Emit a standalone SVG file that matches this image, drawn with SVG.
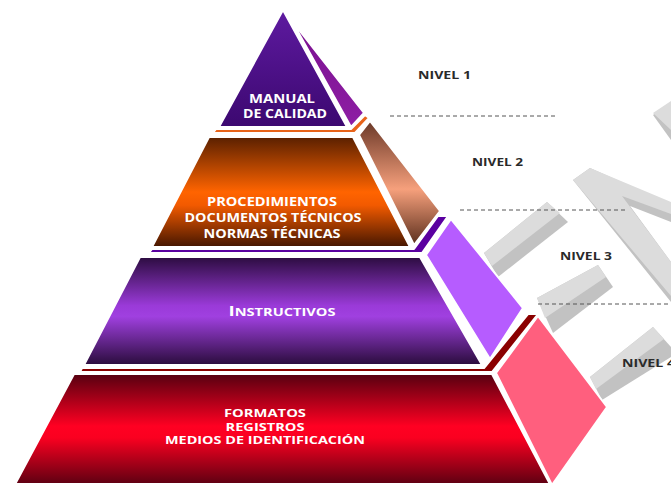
<svg xmlns="http://www.w3.org/2000/svg" width="671" height="483" viewBox="0 0 671 483">
<defs>
<linearGradient id="g1" x1="0" y1="0" x2="0" y2="1"><stop offset="0" stop-color="#5e1aa0"/><stop offset="1" stop-color="#3c0870"/></linearGradient>
<linearGradient id="g1s" x1="0" y1="0" x2="0" y2="1"><stop offset="0" stop-color="#7a1090"/><stop offset="1" stop-color="#8e1ea4"/></linearGradient>
<linearGradient id="g2" x1="0" y1="0" x2="0" y2="1"><stop offset="0" stop-color="#5a2000"/><stop offset="0.5" stop-color="#ff6400"/><stop offset="0.62" stop-color="#f25a00"/><stop offset="1" stop-color="#451600"/></linearGradient>
<linearGradient id="g2s" x1="0" y1="0" x2="0" y2="1"><stop offset="0" stop-color="#6a3828"/><stop offset="0.55" stop-color="#f6a07c"/><stop offset="1" stop-color="#5a2e1c"/></linearGradient>
<linearGradient id="g3" x1="0" y1="0" x2="0" y2="1"><stop offset="0" stop-color="#2c0c40"/><stop offset="0.45" stop-color="#9a3ad8"/><stop offset="0.55" stop-color="#a040e0"/><stop offset="1" stop-color="#2a0c3c"/></linearGradient>
<linearGradient id="g4" x1="0" y1="0" x2="0" y2="1"><stop offset="0" stop-color="#560010"/><stop offset="0.45" stop-color="#ff0022"/><stop offset="0.55" stop-color="#fa0020"/><stop offset="1" stop-color="#4a0010"/></linearGradient>
<style>
.face{stroke:#ffffff;stroke-width:2;stroke-linejoin:round}
.lbl{font-family:"Open Sans","DejaVu Sans",sans-serif;font-weight:700;fill:#ffffff;text-anchor:middle;font-size:11.5px}
.sm{font-size:10px}
.niv{font-family:"Open Sans","DejaVu Sans",sans-serif;font-weight:700;fill:#2a2a2a;font-size:10.5px}
.dash{stroke:#555555;stroke-width:1;stroke-dasharray:4 3;fill:none}
.wm{fill:#dcdcdc}
.wms{fill:#c2c2c2}
</style>
</defs>
<rect width="671" height="483" fill="#ffffff"/>
<g id="watermark">
<polygon class="wms" points="590,168 671,204 671,222 630,206 671,262 671,302 573,180"/>
<polygon class="wm" points="590,168 671,202 671,214 622,196 671,262 671,296 573,180"/>
<polygon class="wms" points="653,115 671,103 671,140"/>
<polygon class="wm" points="653,113 671,101 671,130"/>
<polygon class="wms" points="484,253 547,202 568,222 498,277"/>
<polygon class="wm" points="484,253 547,202 560,213 492,266"/>
<polygon class="wms" points="537,298 598,265 613,287 553,333"/>
<polygon class="wm" points="537,298 598,265 606,277 545,318"/>
<polygon class="wms" points="590,377 653,327 671,347 671,357 602,400"/>
<polygon class="wm" points="590,377 653,327 664,339 596,389"/>
</g>
<g id="connectors">
<line class="dash" x1="390" y1="116" x2="557" y2="116"/>
<line class="dash" x1="460" y1="210" x2="625" y2="210"/>
<line class="dash" x1="538" y1="304" x2="671" y2="304"/>
</g>
<g id="level4">
<polygon class="face" points="82,368 484,368 528,314 538,314 492,372 80,372" fill="#8a0000"/>
<polygon class="face" points="496,373 538,316 607,407 552,485" fill="#ff5f7e"/>
<polygon class="face" points="74,374 492,374 553,490 12,490" fill="url(#g4)"/>
<text class="lbl sm" x="265" y="417" textLength="82" lengthAdjust="spacingAndGlyphs">FORMATOS</text>
<text class="lbl sm" x="265" y="430.5" textLength="79" lengthAdjust="spacingAndGlyphs">REGISTROS</text>
<text class="lbl sm" x="265" y="444" textLength="200" lengthAdjust="spacingAndGlyphs">MEDIOS DE IDENTIFICACIÓN</text>
</g>
<g id="level3">
<polygon class="face" points="152,249 414,249 438,216 448,216 422,253 149,253" fill="#5a00a0"/>
<polygon class="face" points="426,255 451,219 523,308 490,359" fill="#b65cff"/>
<polygon class="face" points="140,257 420,257 482,365 84,365" fill="url(#g3)"/>
<text class="lbl" x="282" y="316" textLength="107" lengthAdjust="spacingAndGlyphs"><tspan font-size="13.5">I</tspan><tspan font-size="10.5">NSTRUCTIVOS</tspan></text>
</g>
<g id="level2">
<polygon class="face" points="216,129 351,129 365,115 369,118 355,133 213,133" fill="#e8641a"/>
<polygon class="face" points="359,135 370,121 440,211 414,245" fill="url(#g2s)"/>
<polygon class="face" points="209,137 353,137 410,247 152,247" fill="url(#g2)"/>
<text class="lbl" x="272" y="206" textLength="130" lengthAdjust="spacingAndGlyphs">PROCEDIMIENTOS</text>
<text class="lbl" x="273" y="222" textLength="177" lengthAdjust="spacingAndGlyphs">DOCUMENTOS TÉCNICOS</text>
<text class="lbl" x="272" y="238" textLength="137" lengthAdjust="spacingAndGlyphs">NORMAS TÉCNICAS</text>
</g>
<g id="level1">
<polygon class="face" points="292,21 364,113 351,127" fill="url(#g1s)"/>
<polygon class="face" points="283,10 347,127 219,127" fill="url(#g1)"/>
<text class="lbl" x="282" y="103" textLength="66" lengthAdjust="spacingAndGlyphs">MANUAL</text>
<text class="lbl" x="285" y="118" textLength="84" lengthAdjust="spacingAndGlyphs">DE CALIDAD</text>
</g>
<g id="labels">
<text class="niv" x="418" y="79" textLength="53" lengthAdjust="spacingAndGlyphs">NIVEL 1</text>
<text class="niv" x="472" y="166" textLength="51" lengthAdjust="spacingAndGlyphs">NIVEL 2</text>
<text class="niv" x="560" y="260" textLength="52" lengthAdjust="spacingAndGlyphs">NIVEL 3</text>
<text class="niv" x="622" y="367" textLength="53" lengthAdjust="spacingAndGlyphs">NIVEL 4</text>
</g>
</svg>
